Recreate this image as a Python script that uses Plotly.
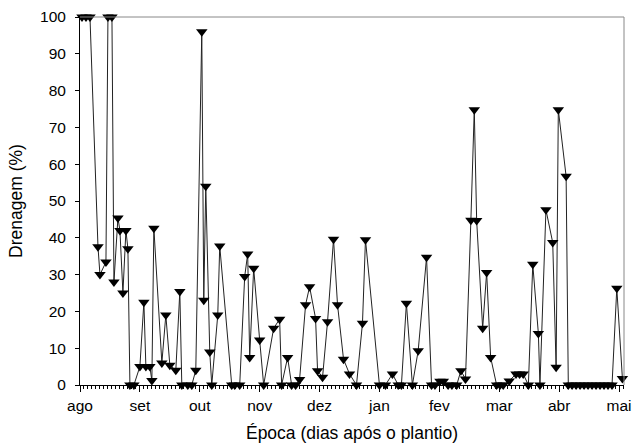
import plotly.graph_objects as go

# days after planting and drainage (%)
dias = [1, 3, 5, 9, 10, 13, 14, 16, 17, 19, 20, 21.5, 23, 24, 25, 27,
        30, 32, 33, 35, 36, 37, 41, 43, 45, 48, 50, 51, 54, 56, 58,
        61, 62, 63, 65, 66, 69, 70, 76, 77.5, 80, 82.5, 84, 85, 87, 90, 92,
        97, 100, 101, 104, 106, 108, 110, 113, 115, 118, 119, 121.5, 124, 127,
        129, 132, 135, 138.5, 141.5, 143, 150, 153, 156.5, 159.4, 161, 163.5,
        166.5, 169.4, 173.6, 176.1, 177.8, 180.3, 182, 184.4, 186.3, 188.7,
        190.8, 193.1, 195.8, 197.5, 198.7, 201.7, 203.7, 205.7, 208.7, 210.4,
        212, 215, 218.4, 220.2, 222, 224.6, 226.8, 229.6, 230.4, 233.4, 236.8,
        238.5, 239.6, 243.5, 244.6, 246.5, 248.5, 250.5, 252.5, 254.5, 256.5,
        258.5, 260.5, 262.5, 264.5, 266.5, 268.9, 271.7]
drenagem = [100, 100, 100, 37.6, 30, 33.4, 100, 100, 28, 45.4, 42, 25, 42, 37, 0, 0,
            5, 22.5, 5, 5, 1.2, 42.6, 6, 19, 5.4, 4, 25.4, 0, 0, 0, 4,
            96, 23, 54, 9, 0, 19, 37.8, 0, 0, 0, 29.5, 35.6, 7.5, 31.7, 12.2, 0,
            15.4, 17.9, 0, 7.5, 0, 0, 1.5, 21.8, 26.7, 18.1, 3.9, 2.1, 17.2, 39.6,
            21.8, 7, 3, 0, 16.8, 39.5, 0, 0, 3, 0, 0, 22.2,
            0, 9.3, 34.7, 0, 0, 1, 1, 0, 0, 0,
            3.9, 1.6, 44.8, 74.8, 44.7, 15.4, 30.6, 7.5, 0, 0,
            0, 1.1, 3, 3, 3, 0, 32.8, 14, 0, 47.6, 38.7,
            4.8, 74.8, 56.7, 0, 0, 0, 0, 0, 0, 0,
            0, 0, 0, 0, 0, 26.3, 1.8]

tick_dias = [0, 30, 60, 90, 120, 150, 180, 210, 240, 270]
tick_meses = ["ago", "set", "out", "nov", "dez", "jan", "fev", "mar", "abr", "mai"]
y_ticks = list(range(0, 101, 10))

fig = go.Figure()
fig.add_trace(go.Scatter(
    x=dias, y=drenagem, mode="lines+markers",
    line=dict(color="#222222", width=1),
    marker=dict(symbol="triangle-down", size=10, color="black"),
    cliponaxis=False, showlegend=False,
))

font = dict(family="Liberation Sans, Arial, sans-serif", color="black")
fig.update_layout(
    width=634, height=444,
    margin=dict(l=80, r=10, t=17, b=59),
    paper_bgcolor="white", plot_bgcolor="white",
    font=dict(size=15.5, **font),
    xaxis=dict(
        range=[0, 272.5], tickvals=tick_dias, ticktext=tick_meses,
        ticks="outside", ticklen=6, tickcolor="black", showgrid=False,
        zeroline=False, showline=True, linecolor="black", linewidth=1,
        minor=dict(dtick=2, tick0=0, ticks="outside", ticklen=3, tickcolor="black"),
        tickfont=dict(size=15.5), ticklabelstandoff=0, automargin=False,
        ticklabeloverflow="allow",
        title=dict(text="Época (dias após o plantio)", font=dict(size=17.5), standoff=14),
    ),
    yaxis=dict(
        range=[0, 100], tickvals=y_ticks, ticks="outside", ticklen=4,
        tickcolor="black", showgrid=False, zeroline=False, showline=True,
        linecolor="black", linewidth=1, tickfont=dict(size=15.5),
        ticklabelstandoff=6, automargin=False, ticklabeloverflow="allow",
        title=dict(text="Drenagem (%)", font=dict(size=17.5), standoff=12),
    ),
    shapes=[
        dict(type="line", xref="paper", yref="paper", x0=0, x1=1, y0=1, y1=1,
             line=dict(color="#888888", width=1)),
        dict(type="line", xref="paper", yref="paper", x0=1, x1=1, y0=0, y1=1,
             line=dict(color="#888888", width=1)),
    ],
)

fig.write_html(
    "out.html",
    config={"displayModeBar": False},
    post_script="document.body.style.margin='0';document.body.style.overflow='hidden';",
)
